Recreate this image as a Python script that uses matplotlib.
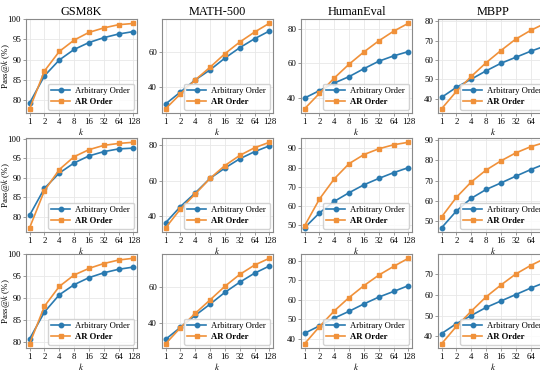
import numpy as np
import matplotlib
matplotlib.use("Agg")
import matplotlib.pyplot as plt
from matplotlib.ticker import NullLocator, FixedLocator

# Pass@k 数据 (3 行 x 4 个基准)
ks = [1, 2, 4, 8, 16, 32, 64, 128]
benchmarks = ["GSM8K", "MATH-500", "HumanEval", "MBPP"]

# 第1行
gsm8k_arb_r1 = [79.3, 86.0, 89.9, 92.5, 94.2, 95.4, 96.3, 96.9]
gsm8k_ar_r1 = [77.9, 87.2, 92.0, 94.8, 96.7, 97.8, 98.6, 98.9]
math_arb_r1 = [30.3, 37.1, 44.0, 49.7, 56.4, 62.3, 67.4, 71.8]
math_ar_r1 = [27.6, 36.0, 44.0, 51.2, 58.9, 65.5, 71.2, 76.2]
he_arb_r1 = [39.8, 44.1, 48.5, 52.2, 56.8, 61.1, 64.2, 66.7]
he_ar_r1 = [33.6, 42.5, 51.4, 59.4, 66.5, 72.9, 78.5, 83.1]
mbpp_arb_r1 = [40.7, 45.9, 50.1, 54.4, 58.3, 61.4, 64.5, 67.3]
mbpp_ar_r1 = [34.8, 43.8, 51.5, 58.6, 64.9, 70.8, 75.3, 79.0]

# 第2行
gsm8k_arb_r2 = [80.4, 87.3, 91.2, 93.8, 95.6, 96.7, 97.4, 97.6]
gsm8k_ar_r2 = [77.2, 86.7, 92.1, 95.4, 97.2, 98.3, 98.8, 99.1]
math_arb_r2 = [36.3, 45.4, 53.1, 61.3, 67.1, 72.3, 76.3, 79.6]
math_ar_r2 = [33.5, 44.0, 52.5, 61.3, 68.5, 74.2, 78.5, 81.6]
he_arb_r2 = [48.8, 56.5, 62.5, 67.0, 71.1, 74.4, 77.4, 80.0]
he_ar_r2 = [49.8, 63.7, 74.2, 82.1, 86.8, 89.8, 91.9, 93.2]
mbpp_arb_r2 = [46.9, 55.1, 61.3, 65.6, 68.8, 72.1, 75.3, 78.2]
mbpp_ar_r2 = [52.2, 61.8, 69.3, 75.1, 79.6, 83.5, 86.5, 88.7]

# 第3行
gsm8k_arb_r3 = [80.8, 86.9, 90.8, 93.1, 94.7, 95.8, 96.6, 97.1]
gsm8k_ar_r3 = [79.7, 88.2, 92.7, 95.3, 96.8, 97.9, 98.7, 99.1]
math_arb_r3 = [31.4, 37.9, 44.4, 50.5, 56.9, 62.4, 67.3, 71.2]
math_ar_r3 = [29.0, 37.7, 45.5, 52.8, 60.2, 66.6, 71.7, 75.4]
he_arb_r3 = [42.8, 46.6, 50.6, 54.1, 57.9, 61.4, 64.3, 67.3]
he_ar_r3 = [37.4, 46.2, 54.3, 61.2, 67.3, 72.7, 77.2, 81.4]
mbpp_arb_r3 = [41.3, 46.1, 50.0, 53.9, 57.0, 60.1, 63.2, 66.0]
mbpp_ar_r3 = [36.4, 44.8, 52.1, 59.0, 64.7, 70.0, 74.1, 77.6]

arb_rows = [
    [gsm8k_arb_r1, math_arb_r1, he_arb_r1, mbpp_arb_r1],
    [gsm8k_arb_r2, math_arb_r2, he_arb_r2, mbpp_arb_r2],
    [gsm8k_arb_r3, math_arb_r3, he_arb_r3, mbpp_arb_r3],
]
ar_rows = [
    [gsm8k_ar_r1, math_ar_r1, he_ar_r1, mbpp_ar_r1],
    [gsm8k_ar_r2, math_ar_r2, he_ar_r2, mbpp_ar_r2],
    [gsm8k_ar_r3, math_ar_r3, he_ar_r3, mbpp_ar_r3],
]

# y 轴刻度
yticks_rows = [
    [[80, 85, 90, 95, 100], [40, 60], [40, 60, 80], [40, 50, 60, 70, 80]],
    [[80, 85, 90, 95, 100], [40, 60, 80], [50, 60, 70, 80, 90], [50, 60, 70, 80, 90]],
    [[80, 85, 90, 95, 100], [40, 60], [40, 50, 60, 70, 80], [40, 50, 60, 70]],
]

plt.rcParams["font.family"] = ["Liberation Serif", "DejaVu Serif"]
plt.rcParams["mathtext.fontset"] = "stix"

blue = "#2a7ab0"
orange = "#f0913a"

W, H = 540, 372
fig = plt.figure(figsize=(W / 100, H / 100), dpi=100)

# 子图位置 (像素) - 第4列超出画布被裁掉
lefts = [26, 162, 301, 438]
tops = [19, 138, 254]
aw, ah = 111, 94

for r in range(3):
    for c in range(4):
        ax = fig.add_axes([lefts[c] / W, 1 - (tops[r] + ah) / H, aw / W, ah / H])
        ax.plot(ks, arb_rows[r][c], "o-", color=blue, lw=1.2, ms=3.2, label="Arbitrary Order", zorder=3)
        ax.plot(ks, ar_rows[r][c], "s-", color=orange, lw=1.2, ms=3.2, label="AR Order", zorder=3)

        ax.set_xscale("log", base=2)
        ax.margins(x=0.035)
        ax.xaxis.set_major_locator(FixedLocator(ks))
        ax.xaxis.set_minor_locator(NullLocator())
        ax.set_xticklabels([str(k) for k in ks])
        ax.set_yticks(yticks_rows[r][c])

        ax.grid(True, color="#e8e8e8", lw=0.6, zorder=0)
        for s in ax.spines.values():
            s.set_color("#8a8a8a")
            s.set_linewidth(0.8)
        ax.tick_params(labelsize=6.3, length=2, width=0.6, color="#8a8a8a", pad=1.5)

        ax.set_xlabel("$k$", fontsize=6.5, labelpad=0)
        if c == 0:
            ax.set_ylabel("Pass@$k$ (%)", fontsize=6.5)
            ax.yaxis.set_label_coords(-0.125, 0.5)
        if r == 0:
            ax.set_title(benchmarks[c], fontsize=8.8, pad=3)

        leg = ax.legend(loc="lower right", fontsize=6.2, handlelength=2.2,
                        borderpad=0.4, labelspacing=0.35, handletextpad=0.6,
                        framealpha=0.85, edgecolor="#cccccc", borderaxespad=0.4)
        leg.get_texts()[1].set_fontweight("bold")

fig.savefig("out.png", dpi=100)
print("saved out.png")
